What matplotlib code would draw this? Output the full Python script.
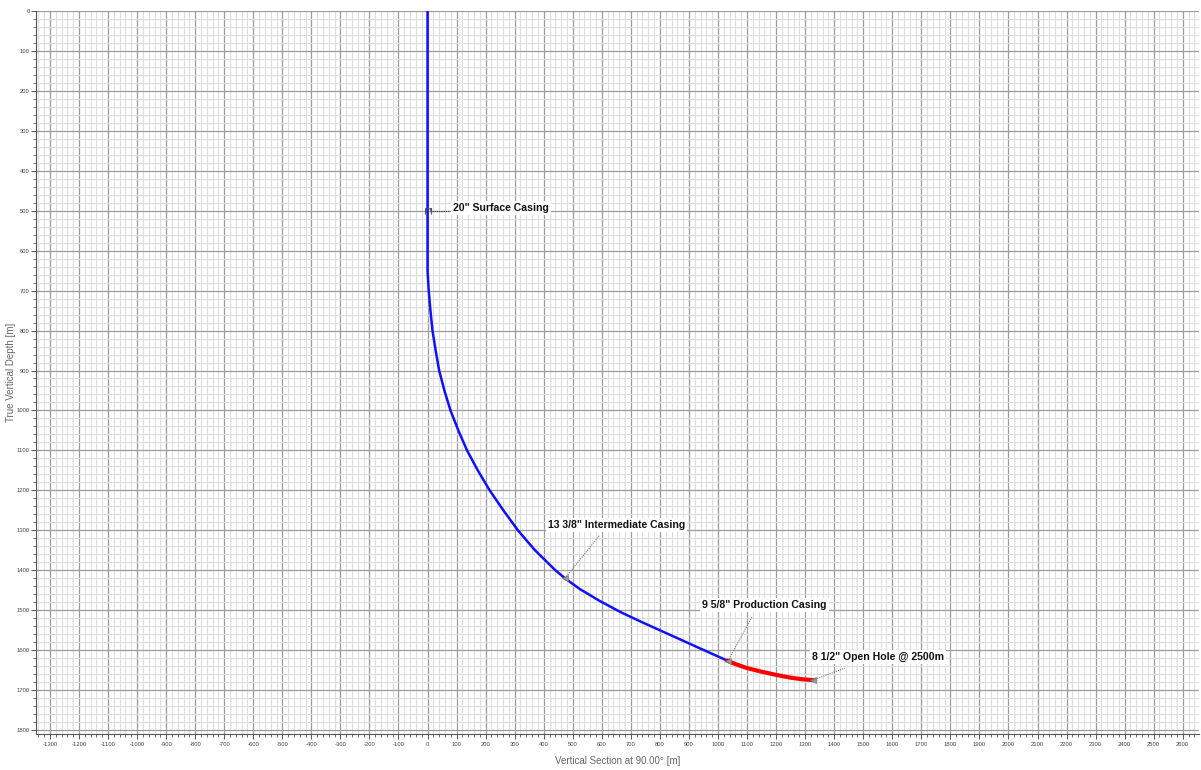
import matplotlib
matplotlib.use("Agg")
import matplotlib.pyplot as plt
from matplotlib.ticker import MultipleLocator
from matplotlib.path import Path

plt.rcParams['axes.unicode_minus'] = False

# ---- data ----
blue_vs = [0, 0, 0, 4, 10, 17, 28, 40, 58, 79, 106, 136, 173, 214, 261, 311, 370,
           440, 473, 524, 593, 665, 738, 799, 866, 936, 1034]
blue_tvd = [0, 500, 650, 700, 750, 800, 850, 900, 950, 1000, 1050, 1100, 1150, 1200, 1250,
            1300, 1350, 1400, 1420, 1447, 1477, 1505, 1530, 1550, 1572, 1595, 1627]
red_vs = [1034, 1060, 1100, 1150, 1200, 1250, 1290, 1327]
red_tvd = [1627, 1635, 1645, 1654, 1662, 1669, 1673, 1675]

casing_labels = ['20" Surface Casing', '13 3/8" Intermediate Casing',
                 '9 5/8" Production Casing', '8 1/2" Open Hole @ 2500m']
casing_vs = [0, 473, 1034, 1327]
casing_tvd = [500, 1420, 1627, 1675]
label_vs = [87, 414, 945, 1324]
label_tvd = [493, 1287, 1487, 1617]
leader_vs = [78, 593, 1117, 1437]
leader_tvd = [500, 1312, 1517, 1645]

x_label = "Vertical Section at 90.00° [m]"
y_label = "True Vertical Depth [m]"

FONT = ['Liberation Sans Narrow', 'Liberation Sans', 'DejaVu Sans']

fig = plt.figure(figsize=(12.01, 7.70), dpi=100)
ax = fig.add_axes([36 / 1201, 1 - 734 / 770, (1199 - 36) / 1201, (734 - 11) / 770])

ax.set_xlim(-1348, 2656)
ax.set_ylim(1810, 0)

ax.xaxis.set_major_locator(MultipleLocator(100))
ax.xaxis.set_minor_locator(MultipleLocator(20))
ax.yaxis.set_major_locator(MultipleLocator(100))
ax.yaxis.set_minor_locator(MultipleLocator(20))

ax.grid(which='major', color='#9c9c9c', linewidth=0.9)
ax.grid(which='minor', color='#dedede', linewidth=0.8)
ax.set_axisbelow(True)

for s in ['top', 'right']:
    ax.spines[s].set_visible(False)
for s in ['left', 'bottom']:
    ax.spines[s].set_color('#555555')
    ax.spines[s].set_linewidth(0.8)

ax.tick_params(which='major', length=3.5, width=0.7, color='#555555', labelsize=4.2,
               labelcolor='#444444', pad=1)
ax.tick_params(which='minor', length=2.2, width=0.6, color='#555555')
ax.tick_params(axis='x', which='major', pad=2.5)
for lab in ax.get_xticklabels() + ax.get_yticklabels():
    lab.set_family(FONT)

ax.set_xlabel(x_label, fontsize=7, color='#666666', family=FONT)
ax.set_ylabel(y_label, fontsize=7, color='#666666', family=FONT)
ax.xaxis.set_label_coords(0.5, -(756 - 734) / 723)
ax.yaxis.set_label_coords(-(36 - 16) / 1163, 0.5)

ax.plot(blue_vs, blue_tvd, color='#1010ff', linewidth=1.8, solid_joinstyle='round', zorder=3)
ax.plot(red_vs, red_tvd, color='#ff0000', linewidth=3.0, solid_joinstyle='round', zorder=3)

# casing shoe markers
shoe = Path([(-1, -1), (-1, 1), (-0.2, 1), (0.2, 1), (1, 1), (1, -1)],
            [Path.MOVETO, Path.LINETO, Path.LINETO, Path.MOVETO, Path.LINETO, Path.LINETO])
ax.plot([casing_vs[0]], [casing_tvd[0]], marker=shoe, markersize=5, color='#555555',
        markeredgewidth=0.8, linestyle='none', zorder=4)
ax.plot(casing_vs[1:], casing_tvd[1:], marker='<', markersize=4, color='#777777',
        markeredgewidth=0.5, markerfacecolor='#999999', linestyle='none', zorder=4)

for i, txt in enumerate(casing_labels):
    x0 = casing_vs[i] + (15 if i == 0 else 0)
    ax.plot([x0, leader_vs[i]], [casing_tvd[i], leader_tvd[i]], linestyle=(0, (1, 1)),
            color='#777777' if i else '#333333', linewidth=0.8, zorder=4)
    ax.text(label_vs[i], label_tvd[i], txt, fontsize=7.6, fontweight='bold', color='#111111',
            family=FONT, ha='left', va='center', zorder=5,
            bbox=dict(facecolor='white', edgecolor='none', pad=1.5))

fig.savefig('out.png', dpi=100)
